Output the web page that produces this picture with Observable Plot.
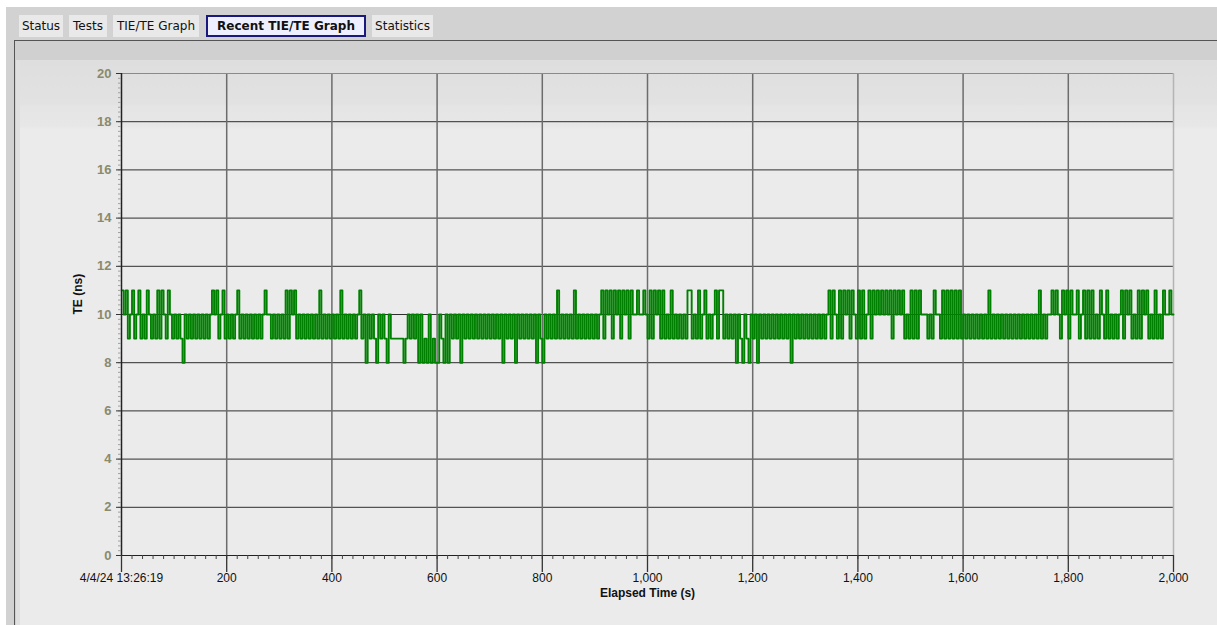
<!DOCTYPE html>
<html><head><meta charset="utf-8">
<script src="https://cdn.jsdelivr.net/npm/d3@7"></script>
<script src="https://cdn.jsdelivr.net/npm/@observablehq/plot@0.6"></script>
<style>
html,body{margin:0;padding:0;background:#fff;width:1217px;height:625px;overflow:hidden;}
#outer{position:absolute;left:6px;top:7px;width:1211px;height:618px;background:#d2d2d2;}
.tab{position:absolute;top:15px;height:22px;background:#e9e9e9;font:12px "DejaVu Sans",sans-serif;line-height:22px;color:#111;text-align:center;box-sizing:border-box;white-space:nowrap;}
.tab.active{border:2px solid #1a1a7e;background:#eef0ff;font-weight:bold;line-height:18px;}
#panel{position:absolute;left:14px;top:40px;width:1203px;height:585px;border-top:1.5px solid #555;border-left:1.5px solid #555;background:#d0d0d0;box-sizing:border-box;}
#strip{position:absolute;left:16px;top:60px;width:4px;height:565px;background:#e0e0e0;}
#chartbg{position:absolute;left:20px;top:60px;width:1197px;height:565px;background:linear-gradient(#dedede 0px,#e2e2e2 44px,#e5e5e5 46px,#e7e7e7 66px,#ebebeb 69px,#ebebeb 100%);}
#chart{position:absolute;left:20px;top:60px;}
</style>
</head><body>
<div id="outer"></div>
<div class="tab" style="left:19px;width:44px">Status</div>
<div class="tab" style="left:69px;width:38px">Tests</div>
<div class="tab" style="left:113px;width:86px">TIE/TE Graph</div>
<div class="tab active" style="left:206px;width:160px">Recent TIE/TE Graph</div>
<div class="tab" style="left:372px;width:61px">Statistics</div>
<div id="panel"></div>
<div id="strip"></div>
<div id="chartbg"></div>
<div id="chart"></div>
<script>
// Sample interval in seconds (one value every 4 s)
const sampleInterval = 4;
// TE values (ns), 0 .. 2000 s
const teValues = [
11,10,11,9,10,11,9,10,11,9,10,9,11,10,9,10,9,11,9,11,10,9,11,10,9,
10,9,10,9,8,10,9,10,9,10,9,10,9,10,9,10,9,10,11,10,11,9,10,11,9,
10,9,10,9,10,11,9,10,9,10,9,10,9,10,9,10,9,10,11,10,10,9,10,9,10,
9,10,9,11,9,11,10,11,9,10,9,10,9,10,9,10,9,10,9,11,9,10,9,10,9,
10,9,10,9,11,9,10,9,10,9,10,9,10,11,9,10,8,10,9,10,9,8,10,9,10,
9,8,10,9,9,9,9,9,9,8,9,10,9,10,9,10,8,10,8,9,8,10,8,9,8,
8,10,9,8,10,8,10,9,10,9,10,8,10,9,10,9,10,9,10,9,10,9,10,9,10,
9,10,9,10,9,10,8,10,9,10,9,10,8,10,9,10,9,10,9,10,9,10,8,10,9,
8,10,9,10,9,10,9,11,9,10,9,10,9,10,9,11,9,10,9,10,9,10,9,10,9,
10,9,10,11,9,11,10,11,9,11,10,11,9,11,10,11,9,11,10,10,11,10,10,11,10,
9,11,9,11,10,11,9,11,9,10,9,11,9,10,9,10,9,10,9,11,11,9,10,9,11,
9,10,11,9,10,9,10,11,9,11,11,9,10,9,10,9,10,8,10,9,8,10,9,8,10,
9,10,8,10,9,10,9,10,9,10,9,10,9,10,9,10,9,10,8,10,9,10,9,10,9,
10,9,10,9,10,9,10,9,10,9,10,11,9,11,10,9,11,9,11,10,11,9,11,10,9,
11,9,11,9,10,11,9,11,10,11,10,11,10,11,10,11,9,11,10,11,10,11,9,10,9,
11,9,11,9,11,10,10,10,9,10,9,11,10,10,9,11,9,11,9,11,9,11,9,11,9,
10,9,10,9,10,9,10,9,10,9,10,9,11,9,10,9,10,9,10,9,10,9,10,9,10,
9,10,9,10,9,10,9,10,9,10,9,11,9,10,9,10,10,11,10,11,10,9,11,10,11,
9,11,10,10,11,9,10,11,9,11,9,11,9,10,9,11,10,9,11,9,10,9,10,9,10,
11,9,11,10,11,9,10,9,11,9,11,10,11,9,10,9,11,9,10,9,11,10,10,11,10,10
];
const xTickValues = [0,200,400,600,800,1000,1200,1400,1600,1800,2000];
const xTickLabels = ["4/4/24 13:26:19","200","400","600","800","1,000","1,200","1,400","1,600","1,800","2,000"];
const yTickValues = [0,2,4,6,8,10,12,14,16,18,20];
const yTickLabels = ["0","2","4","6","8","10","12","14","16","18","20"];
const xTitle = "Elapsed Time (s)";
const yTitle = "TE (ns)";

const samples = teValues.map((v, i) => ({t: i * sampleInterval, v}));
const xMinor = d3.range(0, 2001, 20);
const yMinor = d3.range(0, 20.001, 0.2).map(d => +d.toFixed(1));
const xGrid = xTickValues.filter(d => d > 0 && d < 2000);
const yGrid = yTickValues.filter(d => d > 0 && d < 20);
const font = "'Liberation Sans', Arial, sans-serif";

const chart = Plot.plot({
  width: 1197, height: 565,
  marginLeft: 101, marginRight: 44, marginTop: 13, marginBottom: 70,
  x: {domain: [0, 2000], axis: null},
  y: {domain: [0, 20], axis: null},
  style: {background: "transparent", overflow: "visible"},
  marks: [
    Plot.ruleY(yGrid, {stroke: "#2e2e2e", strokeWidth: 1}),
    Plot.ruleX(xGrid, {stroke: "#6c6c6c", strokeWidth: 1.5}),
    Plot.ruleY([20], {stroke: "#8a8a8a", strokeWidth: 1.2}),
    Plot.ruleX([2000], {stroke: "#b4b4b4", strokeWidth: 1.5}),
    Plot.line(samples, {x: "t", y: "v", curve: "step-after", stroke: "#008000", strokeWidth: 1.9}),
    Plot.ruleX([0], {stroke: "#222", strokeWidth: 1.5}),
    Plot.ruleY([0], {stroke: "#222", strokeWidth: 1.2}),
    Plot.axisX(xMinor, {label: null, tickSize: 4, tickFormat: () => "", stroke: "#444"}),
    Plot.axisX(xTickValues, {label: null, tickSize: 17, tickFormat: () => "", stroke: "#333", strokeWidth: 1.3}),
    Plot.axisX(xTickValues, {label: null, tickSize: 0, tickPadding: 18, tickFormat: d => xTickLabels[xTickValues.indexOf(d)],
      fill: "#111", fontSize: 12, fontFamily: font}),
    Plot.axisY(yMinor, {label: null, tickSize: 3, tickFormat: () => "", stroke: "#a0a0a0"}),
    Plot.axisY(yTickValues, {label: null, tickSize: 5, tickFormat: () => "", stroke: "#333"}),
    Plot.axisY(yTickValues, {label: null, tickSize: 0, tickPadding: 10, tickFormat: d => yTickLabels[yTickValues.indexOf(d)],
      fill: "#8a8a6c", fontSize: 13, fontWeight: "bold", fontFamily: font}),
    Plot.text([xTitle], {frameAnchor: "bottom", dy: 38, lineAnchor: "middle", fill: "#111",
      fontSize: 12, fontWeight: "bold", fontFamily: font}),
    Plot.text([yTitle], {frameAnchor: "left", dx: -43, rotate: -90, lineAnchor: "middle", fill: "#111",
      fontSize: 12, fontWeight: "bold", fontFamily: font})
  ]
});
document.getElementById("chart").appendChild(chart);
</script>
</body></html>
